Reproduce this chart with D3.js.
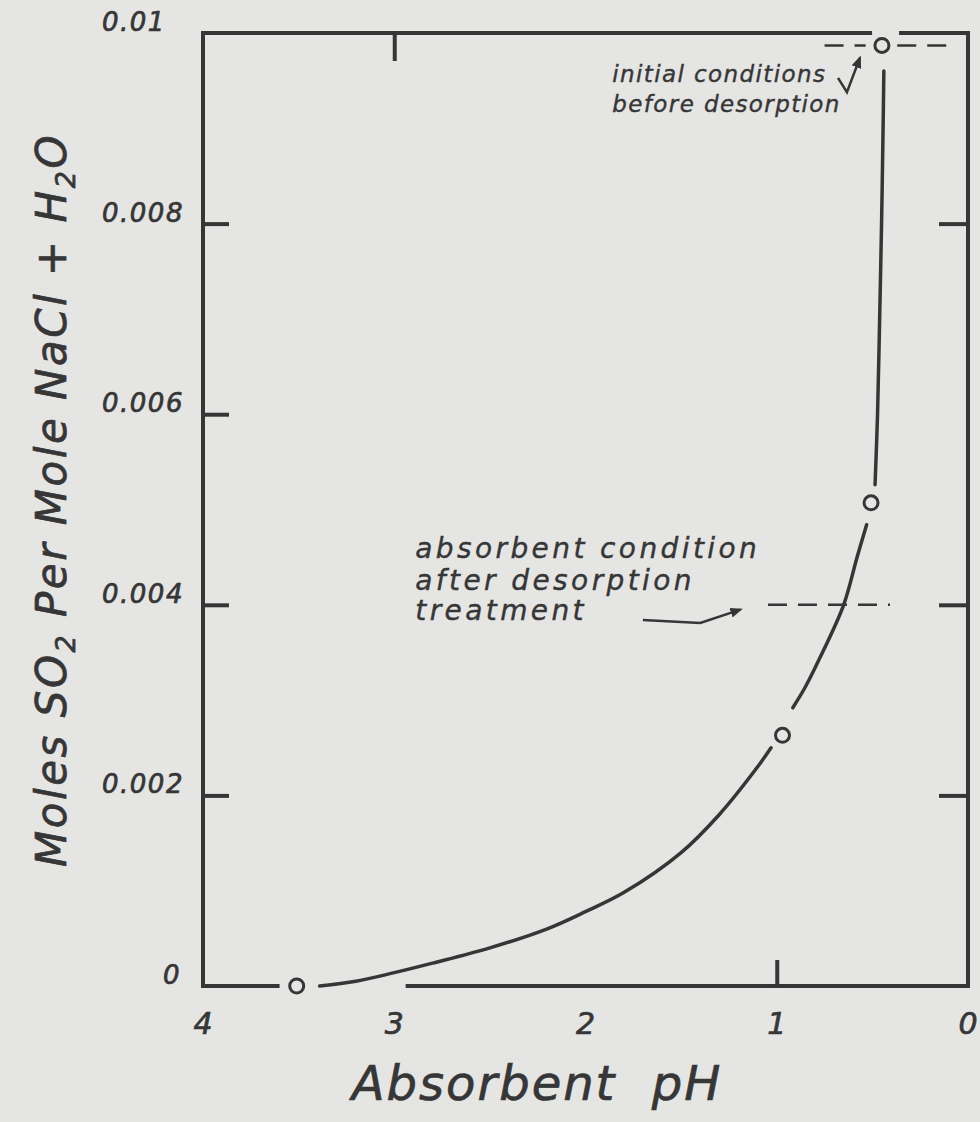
<!DOCTYPE html>
<html>
<head>
<meta charset="utf-8">
<script src="https://cdn.jsdelivr.net/npm/d3@7"></script>
<style>
  html, body { margin: 0; padding: 0; background: #e5e5e3; }
  svg { display: block; }
  text { font-family: "DejaVu Sans", sans-serif; font-style: italic; fill: #363636; stroke: #363636; stroke-width: 0.7; }
</style>
</head>
<body>
<div id="chart"></div>
<script>
// data (pH, moles SO2 per mole NaCl + H2O)
const measuredPH = [3.51, 0.97, 0.507, 0.45];
const measuredSO2 = [0, 0.00263, 0.00507, 0.00987];

// fitted curve, drawn in three pieces with gaps at the open circles
const curveLow = [[3.39, 0], [3.2, 0.00005], [3.0, 0.00014], [2.8, 0.00024], [2.5, 0.0004],
  [2.2, 0.0006], [2.0, 0.00078], [1.8, 0.00098], [1.5, 0.0014], [1.3, 0.0018], [1.1, 0.0023], [1.03, 0.0025]];
const curveMid = [[0.916, 0.00292], [0.85, 0.00314], [0.78, 0.00342], [0.65, 0.004], [0.58, 0.0045], [0.53, 0.00484]];
const curveHigh = [[0.486, 0.00526], [0.473, 0.006], [0.462, 0.007], [0.452, 0.008], [0.444, 0.009], [0.44, 0.0096]];

// dashed reference levels
const dashSegs = [
  { v: 0.00987, from: 0.75, to: 0.535 },
  { v: 0.00987, from: 0.37, to: 0.08 },
  { v: 0.004, from: 1.046, to: 0.408 }
];

const yTicks = [0.002, 0.004, 0.006, 0.008];
const yTicksRight = [0.002, 0.004, 0.008];
const yLabels = [[0, "0"], [0.002, "0.002"], [0.004, "0.004"], [0.006, "0.006"], [0.008, "0.008"], [0.01, "0.01"]];
const xLabels = [4, 3, 2, 1, 0];

const notes = [
  { ph: 2.89, v: 0.00449, text: "absorbent condition", size: 28 },
  { ph: 2.89, v: 0.00416, text: "after desorption", size: 28 },
  { ph: 2.89, v: 0.00384, text: "treatment", size: 28 },
  { ph: 1.86, v: 0.00949, text: "initial conditions", size: 23 },
  { ph: 1.86, v: 0.00917, text: "before desorption", size: 23 }
];
const arrowLow = [[1.70, 0.00384], [1.40, 0.00381], [1.19, 0.00395]];
const arrowTop = [[0.68, 0.00953], [0.633, 0.00938], [0.565, 0.00974]];

const width = 980;
const height = 1122;
const ink = "#363636";

const svg = d3.select("#chart").append("svg")
  .attr("width", width)
  .attr("height", height);

svg.append("defs").append("marker")
  .attr("id", "head")
  .attr("viewBox", "0 0 10 10")
  .attr("refX", 8).attr("refY", 5)
  .attr("markerWidth", 5).attr("markerHeight", 5)
  .attr("orient", "auto")
  .append("path")
  .attr("d", "M0,1 L10,5 L0,9 z")
  .attr("fill", ink);

const x = d3.scaleLinear().domain([4, 0]).range([203, 968]);
const y = d3.scaleLinear().domain([0, 0.01]).range([986, 33]);

// frame, broken where the points sit on it
const frame = [
  [[4, 0], [4, 0.01]],
  [[0, 0], [0, 0.01]],
  [[4, 0.01], [0.512, 0.01]],
  [[0.35, 0.01], [0, 0.01]],
  [[4, 0], [3.61, 0]],
  [[2.93, 0], [0, 0]]
];
svg.append("g").selectAll("line")
  .data(frame)
  .join("line")
  .attr("x1", d => x(d[0][0])).attr("y1", d => y(d[0][1]))
  .attr("x2", d => x(d[1][0])).attr("y2", d => y(d[1][1]))
  .attr("stroke", ink)
  .attr("stroke-width", 4)
  .attr("stroke-linecap", "square");

// inward ticks
function ticks(axis, tr) {
  const g = svg.append("g").attr("transform", tr).call(axis);
  g.select(".domain").remove();
  g.selectAll("line").attr("stroke", ink).attr("stroke-width", 4);
  g.selectAll("text").remove();
}
ticks(d3.axisLeft(y).tickValues(yTicks).tickSize(-26), `translate(${x(4)},0)`);
ticks(d3.axisRight(y).tickValues(yTicksRight).tickSize(-29), `translate(${x(0)},0)`);
ticks(d3.axisTop(x).tickValues([3]).tickSize(-28), `translate(0,${y(0.01)})`);
ticks(d3.axisBottom(x).tickValues([1]).tickSize(-26), `translate(0,${y(0)})`);

// tick labels
svg.append("g").selectAll("text")
  .data(yLabels)
  .join("text")
  .attr("x", d => d[0] === 0 ? 172 : 102)
  .attr("y", d => y(d[0]) - 2)
  .attr("text-anchor", d => d[0] === 0 ? "middle" : "start")
  .attr("font-size", 26)
  .attr("letter-spacing", 1.5)
  .text(d => d[1]);

svg.append("g").selectAll("text")
  .data(xLabels)
  .join("text")
  .attr("x", d => x(d))
  .attr("y", y(0) + 48)
  .attr("text-anchor", "middle")
  .attr("font-size", 30)
  .text(d => d);

// axis titles
svg.append("text")
  .attr("x", 537)
  .attr("y", 1100)
  .attr("text-anchor", "middle")
  .attr("font-size", 48)
  .attr("letter-spacing", 2)
  .attr("word-spacing", 18)
  .text("Absorbent pH");

const yTitle = svg.append("text")
  .attr("transform", "translate(66,500) rotate(-90)")
  .attr("text-anchor", "middle")
  .attr("font-size", 42)
  .attr("letter-spacing", 2.5);
yTitle.append("tspan").text("Moles SO");
yTitle.append("tspan").attr("font-size", 27).attr("dy", 9).text("2");
yTitle.append("tspan").attr("dy", -9).text(" Per Mole NaCl + H");
yTitle.append("tspan").attr("font-size", 27).attr("dy", 9).text("2");
yTitle.append("tspan").attr("dy", -9).text("O");

// dashed reference lines
svg.append("g").selectAll("line")
  .data(dashSegs)
  .join("line")
  .attr("x1", d => x(d.from)).attr("x2", d => x(d.to))
  .attr("y1", d => y(d.v)).attr("y2", d => y(d.v))
  .attr("stroke", ink)
  .attr("stroke-width", 2.5)
  .attr("stroke-dasharray", "19,11");

// curve
const line = d3.line()
  .x(d => x(d[0]))
  .y(d => y(d[1]))
  .curve(d3.curveCatmullRom);

svg.append("g").selectAll("path")
  .data([curveLow, curveMid, curveHigh])
  .join("path")
  .attr("d", line)
  .attr("fill", "none")
  .attr("stroke", ink)
  .attr("stroke-width", 3.5)
  .attr("stroke-linecap", "round");

// open circles
svg.append("g").selectAll("circle")
  .data(measuredPH.map((p, i) => [p, measuredSO2[i]]))
  .join("circle")
  .attr("cx", d => x(d[0]))
  .attr("cy", d => y(d[1]))
  .attr("r", 7)
  .attr("fill", "none")
  .attr("stroke", ink)
  .attr("stroke-width", 3);

// annotations
svg.append("g").selectAll("text")
  .data(notes)
  .join("text")
  .attr("x", d => x(d.ph))
  .attr("y", d => y(d.v))
  .attr("font-size", d => d.size)
  .attr("letter-spacing", d => d.size > 24 ? 3.4 : 1.4)
  .style("stroke-width", 0.4)
  .text(d => d.text);

const arrowLine = d3.line().x(d => x(d[0])).y(d => y(d[1]));
svg.append("g").selectAll("path")
  .data([arrowLow, arrowTop])
  .join("path")
  .attr("d", arrowLine)
  .attr("fill", "none")
  .attr("stroke", ink)
  .attr("stroke-width", 2.5)
  .attr("marker-end", "url(#head)");
</script>
</body>
</html>
